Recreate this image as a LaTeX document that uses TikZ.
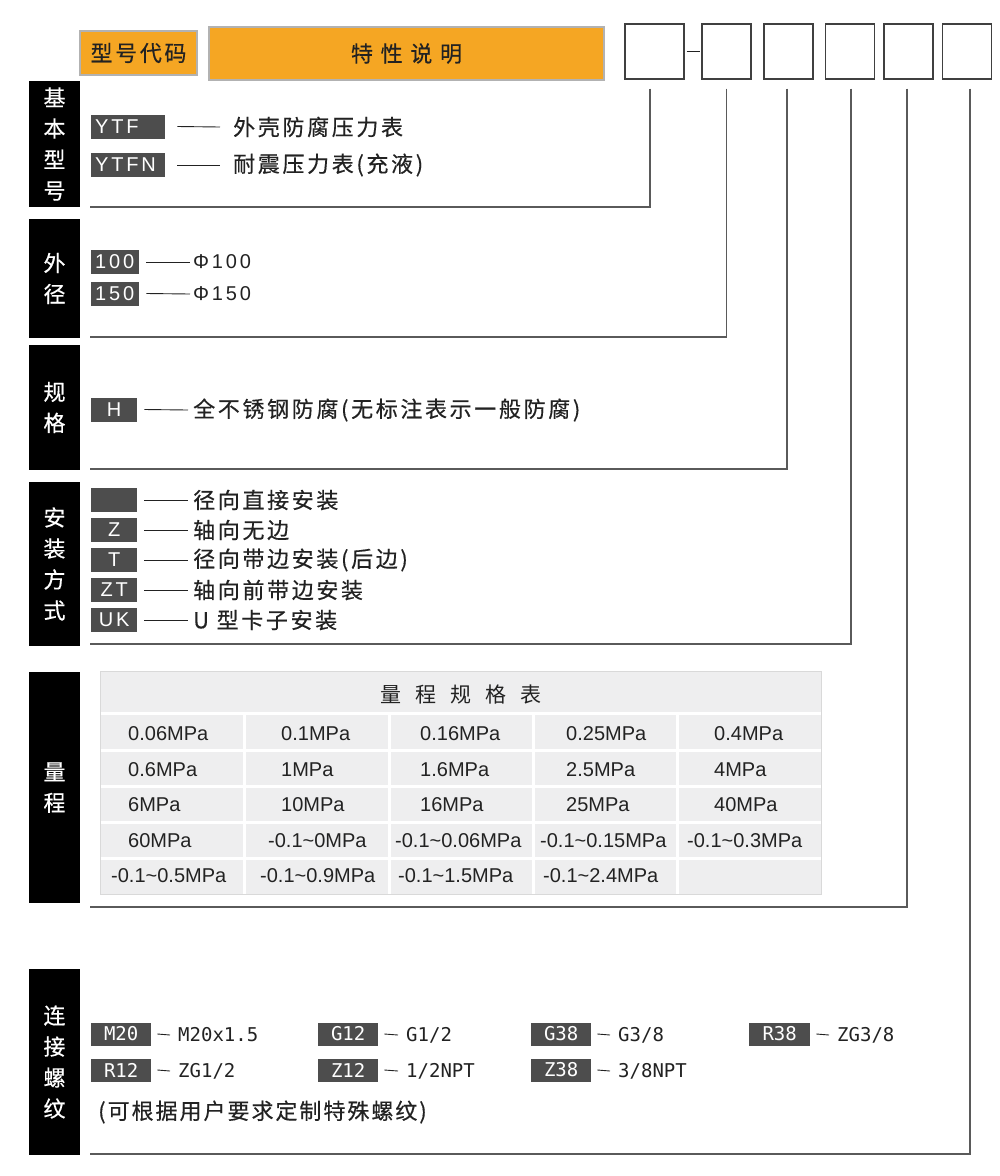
\documentclass[tikz,border=0pt]{standalone}
\usepackage{fontspec}
\setmainfont{Liberation Sans}
\newfontfamily\cjk[LetterSpace=12, FakeBold=0.4]{Noto Sans CJK SC}
\newfontfamily\cjkhead[LetterSpace=35, FakeBold=0.4]{Noto Sans CJK SC}
\newfontfamily\cjktitle[LetterSpace=66]{Noto Sans CJK SC}
\newfontfamily\cjknote[LetterSpace=9, FakeBold=0.4]{Noto Sans CJK SC}
\newfontfamily\cjkside[FakeBold=0.4]{Noto Sans CJK SC}
\newfontfamily\codefont[LetterSpace=14]{Liberation Sans}
\newfontfamily\threadfont{DejaVu Sans Mono}
\usetikzlibrary{positioning,calc}
\definecolor{hdorange}{HTML}{F5A623}
\definecolor{codegray}{HTML}{4D4D4D}
\definecolor{tblgray}{HTML}{EEEEEF}
\definecolor{leadgray}{HTML}{5A5A5A}
\definecolor{txt}{HTML}{222222}
\tikzset{
  hbox/.style   = {draw=black!30, line width=1.2pt, fill=hdorange, inner sep=0pt,
                   text=txt, font=\cjkhead\fontsize{22}{22}\selectfont},
  slot/.style   = {draw=black!75, line width=1.2pt, fill=white, minimum width=49pt,
                   minimum height=55pt, inner sep=0pt},
  side/.style   = {fill=black, text=white, minimum width=51pt, inner sep=0pt,
                   align=center, font=\cjkside\fontsize{22}{31}\selectfont},
  code/.style   = {fill=codegray, text=white, anchor=west, minimum height=24pt,
                   inner xsep=4pt, inner ysep=0pt, font=\codefont\fontsize{20}{20}\selectfont},
  desc/.style   = {anchor=west, inner sep=0pt, text=txt, font=\cjk\fontsize{22}{22}\selectfont},
  dia/.style    = {anchor=west, inner sep=0pt, text=txt, font=\codefont\fontsize{20}{20}\selectfont},
  tie/.style    = {line width=0.9pt, draw=txt},
  lead/.style   = {line width=1.3pt, draw=leadgray},
  cell/.style   = {anchor=west, inner sep=0pt, text=txt, font=\fontsize{20}{20}\selectfont},
  tcode/.style  = {fill=codegray, text=white, minimum width=60pt, minimum height=23pt,
                   inner sep=0pt, anchor=west, font=\threadfont\fontsize{19}{19}\selectfont},
  tdesc/.style  = {anchor=west, inner sep=0pt, text=txt, font=\threadfont\fontsize{19}{19}\selectfont},
}

\begin{document}
\begin{tikzpicture}[x=1pt, y=-1pt]
  \useasboundingbox (0,0) rectangle (1000,1176);
  \fill[white] (0,0) rectangle (1000,1176);
  % header
  \node[hbox, minimum width=117pt, minimum height=44pt, font=\cjk\fontsize{22}{22}\selectfont] (hcode) at (138.5,53) {型号代码};
  \node[hbox, minimum width=395pt, minimum height=53pt] (hdesc) at (406.5,53.5) {特性说明\hspace{13pt}};
  \node[slot, minimum width=59pt] (b1) at (654.5,51.5) {};
  \node[slot] (b2) at (726.5,51.5) {};
  \node[slot] (b3) at (788.5,51.5) {};
  \node[slot] (b4) at (850,51.5) {};
  \node[slot] (b5) at (908.5,51.5) {};
  \node[slot] (b6) at (967,51.5) {};
  \draw[tie, shorten <=2pt, shorten >=1pt] (b1.east) -- (b2.west);
  % leads from the slots
  \foreach \k/\dx/\yy in {1/-4.5/207, 2/0/337, 3/-1.5/469, 4/1/644, 5/-1.5/907, 6/3/1154} {
    \coordinate (e\k) at (90,\yy);
    \draw[lead] ([xshift=\dx pt, yshift=-9pt]b\k.south) |- (e\k);
  }
  % side labels
  \node[side, minimum height=126pt] (s1) at (54.5,144) {基\\本\\型\\号};
  \node[side, minimum height=119pt] (s2) at (54.5,278.5) {外\\径};
  \node[side, minimum height=125pt] (s3) at (54.5,407.5) {规\\格};
  \node[side, minimum height=164pt] (s4) at (54.5,564) {安\\装\\方\\式};
  \node[side, minimum height=231pt] (s5) at (54.5,787.5) {量\\程};
  \node[side, minimum height=186pt] (s6) at (54.5,1062) {连\\接\\螺\\纹};
  % basic type
  \node[code, text width=66pt, align=left] (ytf) at (91,126.5) {YTF};
  \node[code, text width=66pt, align=left] (ytfn) at (91,165) {YTFN};
  \node[desc] (ytfd) at (233,127) {外壳防腐压力表};
  \node[desc] (ytfnd) at (233,165) {耐震压力表(充液)};
  \draw[tie] ([xshift=12pt]ytf.east) -- ([xshift=-13pt]ytfd.west);
  \draw[tie] ([xshift=12pt]ytfn.east) -- ([xshift=-13pt]ytfnd.west);
  % diameter
  \node[code, text width=40pt, align=left] (d100) at (91,262) {100};
  \node[code, text width=40pt, align=left] (d150) at (91,293.5) {150};
  \node[dia] (d100d) at (193,262) {Φ100};
  \node[dia] (d150d) at (193,294) {Φ150};
  \draw[tie] ([xshift=7pt]d100.east) -- ([xshift=-3pt]d100d.west);
  \draw[tie] ([xshift=7pt]d150.east) -- ([xshift=-3pt]d150d.west);
  % material
  \node[code, text width=38pt, align=center] (mh) at (91,409.5) {H};
  \node[desc] (mhd) at (193,410) {全不锈钢防腐(无标注表示一般防腐)};
  \draw[tie] ([xshift=7pt]mh.east) -- ([xshift=-5pt]mhd.west);
  % mounting
  \foreach \c/\yy/\t [count=\i] in {/500/径向直接安装, Z/530/轴向无边, T/560/径向带边安装(后边),
                                   ZT/590/轴向前带边安装, UK/620/U 型卡子安装} {
    \node[code, text width=38pt, align=center] (mt\i) at (91,\yy) {\c};
    \node[desc] (mtd\i) at (193,\yy) {\t};
    \draw[tie] ([xshift=7pt]mt\i.east) -- ([xshift=-5pt]mtd\i.west);
  }
  % range table
  \fill[tblgray, draw=black!15, line width=0.8pt] (100,671) rectangle (821,894);
  \foreach \yy in {713,750,786,822,858}
    \draw[white, line width=3pt] (100.5,\yy) -- (820.5,\yy);
  \foreach \xx in {244,389,533,677}
    \draw[white, line width=3pt] (\xx,713) -- (\xx,893.5);
  \node[inner sep=0pt, text=txt, font=\cjktitle\fontsize{21}{21}\selectfont] (ttl) at (461,695) {量程规格表};
  \foreach \x/\y/\t [count=\i] in {
      128/734/0.06MPa, 281/734/0.1MPa, 420/734/0.16MPa, 566/734/0.25MPa, 714/734/0.4MPa,
      128/770/0.6MPa, 281/770/1MPa, 420/770/1.6MPa, 566/770/2.5MPa, 714/770/4MPa,
      128/805/6MPa, 281/805/10MPa, 420/805/16MPa, 566/805/25MPa, 714/805/40MPa,
      128/841/60MPa, 268/841/-0.1\textasciitilde0MPa, 395/841/-0.1\textasciitilde0.06MPa,
      540/841/-0.1\textasciitilde0.15MPa, 687/841/-0.1\textasciitilde0.3MPa,
      111/876/-0.1\textasciitilde0.5MPa, 260/876/-0.1\textasciitilde0.9MPa,
      398/876/-0.1\textasciitilde1.5MPa, 543/876/-0.1\textasciitilde2.4MPa}
    \node[cell] (v\i) at (\x,\y) {\t};
  % threads
  \node[tcode] (m20) at (91,1034) {M20};
  \node[tcode] (g12) at (318,1034) {G12};
  \node[tcode] (g38) at (531,1034) {G38};
  \node[tcode, minimum width=61pt] (r38) at (749,1034) {R38};
  \node[tcode] (r12) at (91,1070) {R12};
  \node[tcode] (z12) at (318,1070) {Z12};
  \node[tcode] (z38) at (531,1070) {Z38};
  \node[tdesc] (m20d) at (178,1035) {M20x1.5};
  \node[tdesc] (g12d) at (406,1035) {G1/2};
  \node[tdesc] (g38d) at (618,1035) {G3/8};
  \node[tdesc] (r38d) at (837,1035) {ZG3/8};
  \node[tdesc] (r12d) at (178,1071) {ZG1/2};
  \node[tdesc] (z12d) at (406,1071) {1/2NPT};
  \node[tdesc] (z38d) at (618,1071) {3/8NPT};
  \foreach \a in {m20,g12,g38,r38,r12,z12,z38}
    \draw[tie] ([xshift=6pt]\a.east) -- ([xshift=-8pt]\a d.west);
  \node[anchor=west, inner sep=0pt, text=txt, font=\cjknote\fontsize{22}{22}\selectfont] (note) at (98,1112) {(可根据用户要求定制特殊螺纹)};
\end{tikzpicture}
\end{document}
